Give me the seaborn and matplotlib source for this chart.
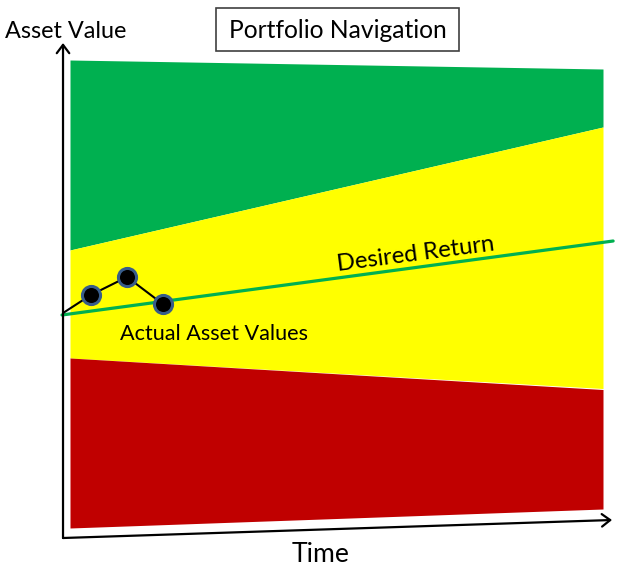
import matplotlib
matplotlib.use("Agg")
import matplotlib.pyplot as plt
import seaborn as sns
import pandas as pd
from matplotlib.patches import Rectangle

sns.set_theme(style="white")
plt.rcParams['font.family'] = ['Lato', 'DejaVu Sans']

# ---- data (time runs 0..10, asset value in arbitrary units) ----
band_time = [0, 10]
green_top = [103.0, 101.2]
green_bottom = [65.0, 89.6]
yellow_bottom = [43.4, 37.3]
red_top = [43.4, 37.1]
red_bottom = [9.4, 13.2]

desired_time = [-0.15, 10.19]
desired_value = [52.0, 66.8]

actual_time = [-0.13, 0.39, 1.07, 1.74]
actual_value = [52.4, 56.0, 59.6, 54.2]
marker_time = actual_time[1:]
marker_value = actual_value[1:]

title_text = "Portfolio Navigation"
y_label = "Asset Value"
x_label = "Time"
desired_label = "Desired Return"
actual_label = "Actual Asset Values"

# ---- figure ----
fig = plt.figure(figsize=(6.2, 5.75), dpi=100)
ax = fig.add_axes([0, 0, 1, 1])
ax.set_xlim(-70 / 53.3, 550 / 53.3)
ax.set_ylim(0, 115)
ax.axis('off')

ax.fill_between(band_time, green_bottom, green_top, color='#00B050', lw=0)
ax.fill_between(band_time, yellow_bottom, green_bottom, color='#FFFF00', lw=0)
ax.fill_between(band_time, red_bottom, red_top, color='#C00000', lw=0)

df_des = pd.DataFrame({'t': desired_time, 'v': desired_value})
sns.lineplot(data=df_des, x='t', y='v', ax=ax, color='#00B050', lw=2.3)

df_act = pd.DataFrame({'t': actual_time, 'v': actual_value})
sns.lineplot(data=df_act, x='t', y='v', ax=ax, color='black', lw=1.5)
df_mk = pd.DataFrame({'t': marker_time, 'v': marker_value})
sns.scatterplot(data=df_mk, x='t', y='v', ax=ax, color='black', s=170,
                edgecolor='#385D8A', linewidth=2.2, zorder=5)
ax.axis('off')

# axes arrows
origin = (-0.131, 7.4)
arrow_kw = dict(arrowstyle='->,head_length=0.6,head_width=0.45', lw=1.6,
                color='black', mutation_scale=10, shrinkA=0, shrinkB=0)
ax.annotate('', xy=(-0.131, 106.4), xytext=origin, arrowprops=arrow_kw)
ax.annotate('', xy=(10.17, 11.0), xytext=origin, arrowprops=arrow_kw)

fig.canvas.draw()
renderer = fig.canvas.get_renderer()


def fit(txt, width_px):
    w = txt.get_window_extent(renderer).width
    txt.set_fontsize(txt.get_fontsize() * width_px / w)


t1 = ax.text(-1.22, 107.4, y_label, ha='left', va='baseline', fontsize=18, color='black')
fit(t1, 122)
t2 = ax.text(5.03, 107.4, title_text, ha='center', va='baseline', fontsize=18, color='black')
fit(t2, 217)
t3 = ax.text(4.71, 2.6, x_label, ha='center', va='baseline', fontsize=20, color='black')
fit(t3, 58)
t4 = ax.text(2.70, 47.0, actual_label, ha='center', va='baseline', fontsize=17, color='black')
fit(t4, 188)
t5 = ax.text(6.51, 62.8, desired_label, ha='center', va='baseline', fontsize=18,
             color='black', rotation=0, rotation_mode='anchor')
fit(t5, 159)
t5.set_rotation(7.5)

# title box (pixel-based decoration)
box = Rectangle((216 / 620, 1 - 51 / 575), (459 - 216) / 620, (51 - 8) / 575,
                transform=fig.transFigure, fill=False, edgecolor='#404040', lw=1.2)
fig.patches.append(box)

fig.savefig('out.png', dpi=100)
